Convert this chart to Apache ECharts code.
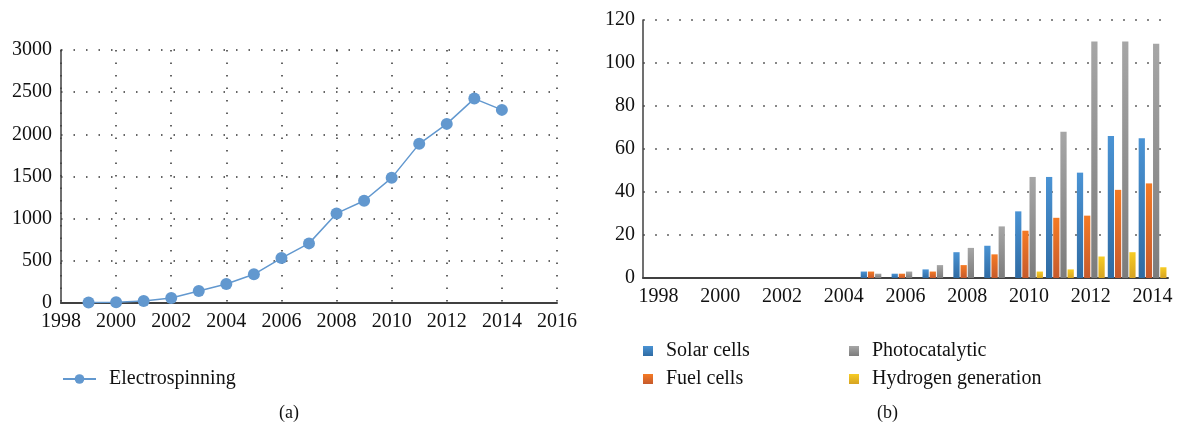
<!DOCTYPE html>
<html><head><meta charset="utf-8">
<script src="https://cdn.jsdelivr.net/npm/echarts@6/dist/echarts.min.js"></script>
<style>html,body{margin:0;padding:0;background:#fff}#c{width:1177px;height:427px}</style>
</head><body><div id="c"></div>
<script>
// Left chart (a)
const lineYears = [1999,2000,2001,2002,2003,2004,2005,2006,2007,2008,2009,2010,2011,2012,2013,2014];
const electrospinning = [5,10,25,60,142,225,340,533,707,1062,1212,1484,1887,2124,2424,2290];
// Right chart (b)
const barYears = ['1998','1999','2000','2001','2002','2003','2004','2005','2006','2007','2008','2009','2010','2011','2012','2013','2014'];
const solarCells   = [0,0,0,0,0,0,0,3,2,4,12,15,31,47,49,66,65];
const fuelCells    = [0,0,0,0,0,0,0,3,2,3,6,11,22,28,29,41,44];
const photocatalytic=[0,0,0,0,0,0,0,2,3,6,14,24,47,68,110,110,109];
const hydrogen     = [0,0,0,0,0,0,0,0,0,0,0,0,3,4,10,12,5];

const FONT = '"Liberation Serif","DejaVu Serif",serif';
function grad(a,b){return new echarts.graphic.LinearGradient(0,0,0,1,[{offset:0,color:a},{offset:1,color:b}]);}
const cBlue = grad('#4a93d4','#2f6ba3');
const cOrange = grad('#f57a24','#c65a2c');
const cGray = grad('#a6a6a6','#7c7c7c');
const cYellow = grad('#f7cc24','#d6a323');
const plain = v => String(v);
const BG = '15%', BCG = '10%';

const chart = echarts.init(document.getElementById('c'));
chart.setOption({
  animation:false,
  textStyle:{fontFamily:FONT},
  grid:[
    {left:61, top:50, width:496, height:253},
    {left:643, top:20, right:9, height:258}
  ],
  xAxis:[
    {gridIndex:0, type:'value', min:1998, max:2016, interval:2,
     axisLine:{show:true, lineStyle:{color:'#404040', width:2}},
     axisTick:{show:false},
     axisLabel:{color:'#111', fontSize:20, fontFamily:FONT, margin:9, formatter:plain},
     splitLine:{show:true, lineStyle:{color:'#333', width:1.5, type:[1.5,11]}}},
    {gridIndex:1, type:'category', data:barYears,
     axisLine:{show:true, lineStyle:{color:'#404040', width:2}},
     axisTick:{show:false},
     axisLabel:{color:'#111', fontSize:20, fontFamily:FONT, margin:9, interval:1},
     splitLine:{show:false}}
  ],
  yAxis:[
    {gridIndex:0, type:'value', min:0, max:3000, interval:500,
     axisLine:{show:true, lineStyle:{color:'#404040', width:1.5}},
     axisTick:{show:false},
     axisLabel:{color:'#111', fontSize:20, fontFamily:FONT, margin:9, formatter:plain},
     splitLine:{show:true, lineStyle:{color:'#333', width:1.5, type:[1.5,11]}}},
    {gridIndex:1, type:'value', min:0, max:120, interval:20,
     axisLine:{show:true, lineStyle:{color:'#404040', width:1.5}},
     axisTick:{show:false},
     axisLabel:{color:'#111', fontSize:20, fontFamily:FONT, margin:8},
     splitLine:{show:true, lineStyle:{color:'#888', width:2, type:[2,10]}}}
  ],
  legend:[
    {data:['Electrospinning'], left:62, top:369, padding:0, itemWidth:33, itemHeight:12,
     textStyle:{fontSize:20, fontFamily:FONT, color:'#111', padding:[0,0,0,8]}},
    {data:['Solar cells','Fuel cells'], orient:'vertical', left:643, top:341, padding:0,
     itemWidth:10, itemHeight:10, itemGap:8, icon:'rect',
     textStyle:{fontSize:20, fontFamily:FONT, color:'#111', padding:[0,0,0,8]}},
    {data:['Photocatalytic','Hydrogen generation'], orient:'vertical', left:849, top:341, padding:0,
     itemWidth:10, itemHeight:10, itemGap:8, icon:'rect',
     textStyle:{fontSize:20, fontFamily:FONT, color:'#111', padding:[0,0,0,8]}}
  ],
  series:[
    {name:'Electrospinning', type:'line', xAxisIndex:0, yAxisIndex:0,
     data:lineYears.map((y,i)=>[y,electrospinning[i]]),
     symbol:'circle', symbolSize:12, color:'#6298cf',
     lineStyle:{width:1.5, color:'#6298cf'}, itemStyle:{color:'#6298cf'}},
    {name:'Solar cells', type:'bar', xAxisIndex:1, yAxisIndex:1, data:solarCells,
     itemStyle:{color:cBlue}, barGap:BG, barCategoryGap:BCG},
    {name:'Fuel cells', type:'bar', xAxisIndex:1, yAxisIndex:1, data:fuelCells,
     itemStyle:{color:cOrange}, barGap:BG, barCategoryGap:BCG},
    {name:'Photocatalytic', type:'bar', xAxisIndex:1, yAxisIndex:1, data:photocatalytic,
     itemStyle:{color:cGray}, barGap:BG, barCategoryGap:BCG},
    {name:'Hydrogen generation', type:'bar', xAxisIndex:1, yAxisIndex:1, data:hydrogen,
     itemStyle:{color:cYellow}, barGap:BG, barCategoryGap:BCG}
  ],
  graphic:[
    {type:'text', left:279, top:404, style:{text:'(a)', fontSize:18, fontFamily:FONT, fill:'#111'}},
    {type:'text', left:877, top:404, style:{text:'(b)', fontSize:18, fontFamily:FONT, fill:'#111'}}
  ]
});
</script></body></html>
